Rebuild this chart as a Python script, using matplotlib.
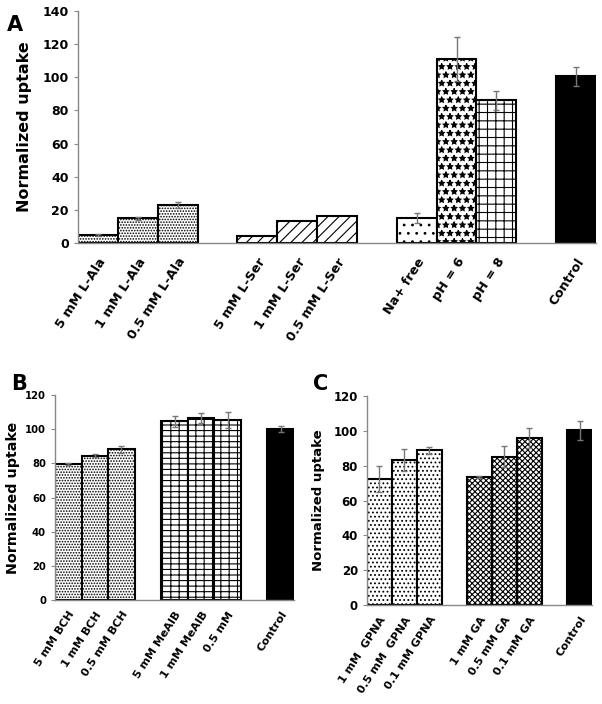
import numpy as np
import matplotlib.pyplot as plt
from matplotlib.transforms import ScaledTranslation

# Panel A data
a_labels = ["5 mM L-Ala", "1 mM L-Ala", "0.5 mM L-Ala",
            "5 mM L-Ser", "1 mM L-Ser", "0.5 mM L-Ser",
            "Na+ free", "pH = 6", "pH = 8", "Control"]
a_values = [5, 15, 23, 4.5, 13, 16.5, 15, 111, 86, 100.5]
a_errors = [0.6, 1, 2, 0, 0, 0, 3, 13.5, 5.5, 5.5]
a_slots = [0, 1, 2, 4, 5, 6, 8, 9, 10, 12]

# Panel B data
b_labels = ["5 mM BCH", "1 mM BCH", "0.5 mM BCH",
            "5 mM MeAIB", "1 mM MeAIB", "0.5 mM", "Control"]
b_values = [79.6, 84.5, 88.2, 104.5, 106.5, 105.3, 100.2]
b_errors = [0.8, 0.8, 2.2, 3.3, 3.0, 4.8, 1.8]
b_slots = [0, 1, 2, 4, 5, 6, 8]

# Panel C data
c_labels = ["1 mM  GPNA", "0.5 mM  GPNA", "0.1 mM GPNA",
            "1 mM GA", "0.5 mM GA", "0.1 mM GA", "Control"]
c_values = [72.2, 83.5, 88.8, 73.3, 85.1, 95.7, 100.4]
c_errors = [7.5, 6.3, 2.0, 0.5, 6.0, 5.7, 5.4]
c_slots = [0, 1, 2, 4, 5, 6, 8]

a_hatches = ["......", "......", "......", "///", "///", "///", "..", "**", "++", None]
b_hatches = ["......", "......", "......", "---||", "---||", "---||", None]
c_hatches = ["....", "....", "....", "xxxxxx", "xxxxxx", "xxxxxx", None]

plt.rcParams['font.family'] = 'DejaVu Sans'
plt.rcParams['font.weight'] = 'bold'
plt.rcParams['hatch.linewidth'] = 0.8

fig = plt.figure(figsize=(6.02, 7.04), dpi=100)


def draw_panel(ax, slots, values, errors, hatches, labels, ymax,
               ylabel_size, ytick_size, xtick_size, label_x, pad):
    for s, v, e, h in zip(slots, values, errors, hatches):
        color = 'black' if h is None else 'white'
        ax.bar(s, v, width=1.0, color=color, edgecolor='black', linewidth=1.5,
               hatch=h, zorder=2)
        if e > 0:
            ax.errorbar(s, v, yerr=e, fmt='none', ecolor='#777777', elinewidth=1,
                        capsize=2.5, capthick=1, zorder=3)
    ax.set_xlim(-0.5, max(slots) + 0.5)
    ax.set_ylim(0, ymax)
    ax.set_yticks(np.arange(0, ymax + 1, 20))
    ax.set_xticks(slots)
    ax.set_xticklabels(labels, rotation=57, ha='right', rotation_mode='anchor',
                       fontsize=xtick_size, fontweight='bold')
    shift = ScaledTranslation(-4 / 72, 0, fig.dpi_scale_trans)
    for lab in ax.get_xticklabels():
        lab.set_transform(lab.get_transform() + shift)
    ax.tick_params(axis='x', length=0, pad=pad)
    ax.tick_params(axis='y', length=3, width=0.8, color='#888888', labelsize=ytick_size)
    ax.set_ylabel("Normalized uptake", fontsize=ylabel_size, fontweight='bold')
    ax.yaxis.set_label_coords(label_x, 0.5)
    for sp in ['top', 'right']:
        ax.spines[sp].set_visible(False)
    for sp in ['left', 'bottom']:
        ax.spines[sp].set_color('#888888')
        ax.spines[sp].set_linewidth(1.0)


ax_a = fig.add_axes([0.1296, 0.6548, 0.8604, 0.3296])
draw_panel(ax_a, a_slots, a_values, a_errors, a_hatches, a_labels, 140,
           11.5, 9, 9.3, -0.089, 9)

ax_b = fig.add_axes([0.0914, 0.1477, 0.397, 0.2912])
draw_panel(ax_b, b_slots, b_values, b_errors, b_hatches, b_labels, 120,
           10.3, 7.2, 8, -0.146, 7)

ax_c = fig.add_axes([0.6096, 0.1406, 0.3738, 0.2969])
draw_panel(ax_c, c_slots, c_values, c_errors, c_hatches, c_labels, 120,
           9.5, 8.5, 8, -0.187, 7)

fig.text(0.025, 0.964, "A", fontsize=15, fontweight='bold', ha='center', va='center')
fig.text(0.031, 0.454, "B", fontsize=15, fontweight='bold', ha='center', va='center')
fig.text(0.532, 0.454, "C", fontsize=15, fontweight='bold', ha='center', va='center')

fig.savefig("out.png", dpi=100)
